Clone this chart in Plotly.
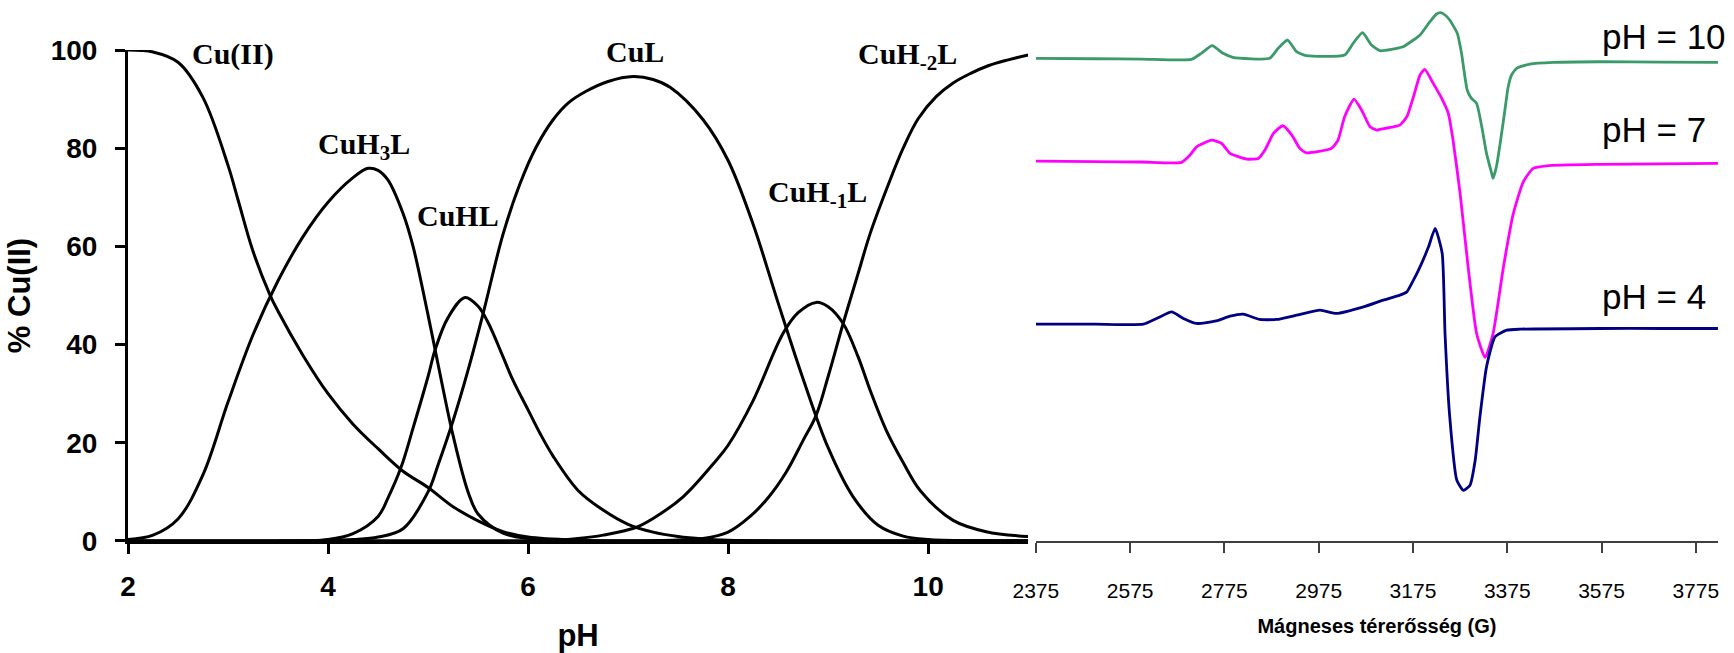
import plotly.graph_objects as go

# ---------------- Left panel: species distribution (% Cu(II) vs pH) ----------------
cu_ph = [2.0, 2.25, 2.5, 2.75, 3.0, 3.1, 3.25, 3.42, 3.5, 3.75, 4.0, 4.25, 4.5, 4.75, 5.0, 5.25, 5.5, 5.75, 6.0, 6.5, 7.0, 8.0, 9.0, 10.0, 11.0]
cu_pct = [100, 99.6, 97.5, 90.3, 76.5, 69.5, 59.0, 50.1, 46.8, 37.8, 30.0, 23.8, 18.8, 14.2, 10.9, 7.0, 4.1, 1.9, 0.8, 0.15, 0, 0, 0, 0, 0]

cuh3l_ph = [2.0, 2.25, 2.5, 2.75, 3.0, 3.25, 3.5, 3.75, 4.0, 4.25, 4.4, 4.5, 4.6, 4.75, 4.85, 5.0, 5.1, 5.25, 5.4, 5.5, 5.75, 6.0, 6.5, 7.0, 11.0]
cuh3l_pct = [0.3, 1.2, 4.5, 13.5, 28.3, 42.0, 53.0, 62.0, 69.0, 74.0, 75.9, 75.5, 73.5, 66.7, 60.0, 46.0, 36.0, 21.5, 10.0, 5.5, 1.6, 0.5, 0.05, 0, 0]

cuhl_ph = [3.5, 4.0, 4.25, 4.5, 4.6, 4.73, 4.85, 5.0, 5.07, 5.2, 5.37, 5.5, 5.6, 5.75, 5.85, 6.0, 6.12, 6.25, 6.5, 6.75, 7.0, 7.25, 7.5, 7.75, 8.0, 8.5, 11.0]
cuhl_pct = [0, 0.3, 1.5, 5.0, 8.8, 15.0, 23.0, 33.5, 38.9, 45.5, 49.6, 47.8, 44.5, 37.5, 32.7, 26.7, 21.9, 17.3, 10.3, 6.3, 3.4, 1.8, 0.9, 0.4, 0.15, 0, 0]

cul_ph = [2.0, 4.0, 4.25, 4.5, 4.75, 5.0, 5.1, 5.25, 5.4, 5.55, 5.75, 5.92, 6.08, 6.25, 6.4, 6.58, 6.8, 7.05, 7.25, 7.42, 7.75, 8.0, 8.25, 8.5, 8.75, 9.0, 9.25, 9.5, 9.75, 10.0, 10.5, 11.0]
cul_pct = [0, 0.1, 0.3, 0.8, 2.5, 10.0, 15.5, 24.5, 34.8, 46.3, 62.5, 72.8, 80.2, 85.8, 89.2, 91.6, 93.6, 94.6, 94.0, 92.4, 85.8, 77.5, 64.5, 48.5, 33.0, 19.0, 9.0, 3.2, 1.0, 0.3, 0.05, 0]

cuh_1l_ph = [2.0, 6.0, 6.25, 6.5, 6.75, 7.07, 7.25, 7.55, 7.88, 8.0, 8.25, 8.55, 8.7, 8.88, 9.0, 9.15, 9.3, 9.42, 9.58, 9.75, 9.92, 10.25, 10.58, 11.0]
cuh_1l_pct = [0, 0, 0.1, 0.5, 1.2, 2.7, 4.6, 9.0, 16.4, 19.5, 28.6, 42.3, 46.5, 48.6, 47.7, 44.3, 37.5, 30.7, 22.6, 16.0, 10.3, 4.2, 1.9, 0.9]

cuh_2l_ph = [2.0, 7.0, 7.5, 7.75, 8.0, 8.22, 8.4, 8.58, 8.75, 8.88, 9.0, 9.15, 9.3, 9.42, 9.6, 9.75, 9.9, 10.08, 10.25, 10.42, 10.6, 10.8, 11.0]
cuh_2l_pct = [0, 0, 0.2, 0.5, 1.8, 5.0, 8.8, 14.0, 20.5, 25.6, 33.5, 44.3, 54.5, 62.6, 72.5, 80.0, 86.0, 90.5, 93.3, 95.2, 96.8, 98.0, 99.0]

species_names = ["Cu(II)", "CuH<sub>3</sub>L", "CuHL", "CuL", "CuH<sub>-1</sub>L", "CuH<sub>-2</sub>L"]
label_ph = [3.05, 4.36, 5.30, 7.07, 8.89, 9.79]
label_pct = [99.2, 80.5, 66.3, 99.6, 70.6, 98.7]

ph_ticks = [2, 4, 6, 8, 10]
pct_ticks = [0, 20, 40, 60, 80, 100]

# ---------------- Right panel: EPR spectra (intensity, arbitrary units) ----------------
ph10_field = [2375, 2500, 2600, 2705, 2726, 2749, 2772, 2793, 2871, 2889, 2909, 2928, 2949, 3030, 3048, 3068, 3087,
              3105, 3154, 3176, 3190, 3211, 3225, 3234, 3243, 3253, 3269, 3278, 3290, 3299, 3310, 3321, 3331, 3342,
              3345, 3352, 3361, 3370, 3377, 3384, 3395, 3423, 3473, 3572, 3700, 3822]
ph10_int = [482.4, 482.0, 481.7, 481.4, 487.4, 495.0, 487.4, 483.4, 482.4, 492.4, 500.7, 489.0, 485.0, 485.7, 497.4, 508.0, 495.7,
            490.0, 494.0, 500.7, 505.7, 519.0, 526.7, 528.0, 525.7, 520.7, 507.4, 487.4, 450.7, 442.4, 437.4, 414.0, 387.4, 367.4,
            362.4, 374.0, 400.7, 430.7, 454.0, 465.7, 472.4, 476.7, 478.4, 479.0, 478.6, 478.4]

ph7_field = [2375, 2500, 2600, 2684, 2702, 2716, 2748, 2769, 2787, 2822, 2847, 2861, 2879, 2899, 2918, 2935, 2949, 3002,
             3016, 3030, 3050, 3066, 3084, 3098, 3105, 3133, 3147, 3162, 3176, 3190, 3200, 3218, 3236, 3250, 3260, 3275,
             3292, 3310, 3328, 3345, 3367, 3388, 3409, 3430, 3459, 3572, 3700, 3822]
ph7_int = [379.7, 379.2, 378.8, 378.4, 385.7, 394.0, 400.7, 397.4, 387.4, 381.7, 382.4, 390.7, 407.4, 415.0, 405.7, 392.4, 388.0, 392.4,
           400.7, 424.0, 441.7, 430.7, 414.0, 410.7, 411.4, 414.0, 415.7, 424.0, 444.0, 465.7, 471.4, 457.4, 442.4, 427.4, 400.7, 347.4,
           274.0, 207.4, 183.4, 207.4, 274.0, 327.4, 359.0, 372.4, 375.0, 376.4, 377.0, 377.4]

ph4_field = [2375, 2500, 2603, 2631, 2663, 2688, 2716, 2758, 2787, 2815, 2850, 2886, 2928, 2978, 3013, 3070, 3112, 3147,
             3162, 3176, 3190, 3208, 3222, 3237, 3243, 3253, 3268, 3282, 3296, 3307, 3317, 3331, 3349, 3374, 3402, 3572,
             3700, 3822]
ph4_int = [216.7, 216.7, 216.7, 222.4, 229.0, 222.4, 217.4, 220.0, 224.7, 226.7, 221.4, 221.4, 225.7, 230.7, 227.4, 234.0, 240.7, 245.7,
           249.0, 260.7, 274.0, 294.0, 312.4, 287.4, 207.4, 124.0, 60.7, 50.7, 55.7, 80.7, 124.0, 174.0, 204.0, 210.7, 211.7, 212.4,
           212.4, 212.4]

field_ticks = [2375, 2575, 2775, 2975, 3175, 3375, 3575, 3775]
spectra_labels = ["pH = 10", "pH = 7", "pH = 4"]
spectra_label_int = [504.5, 411.0, 244.5]
spectra_colors = ["#3a9a6a", "#ff00ff", "#000080"]

# ---------------- Figure ----------------
W, H = 1734, 653
ML, MR, MT, MB = 128.3, 16.0, 5.0, 112.3
plot_w = W - ML - MR
plot_h = H - MT - MB

fig = go.Figure()

species = [
    (cu_ph, cu_pct), (cuh3l_ph, cuh3l_pct), (cuhl_ph, cuhl_pct),
    (cul_ph, cul_pct), (cuh_1l_ph, cuh_1l_pct), (cuh_2l_ph, cuh_2l_pct),
]
for name, (xs, ys) in zip(species_names, species):
    fig.add_trace(go.Scatter(x=xs, y=ys, mode="lines", name=name, xaxis="x", yaxis="y",
                             line=dict(color="black", width=3, shape="spline", smoothing=1.0),
                             showlegend=False, hoverinfo="x+y+name"))

spectra = [(ph10_field, ph10_int), (ph7_field, ph7_int), (ph4_field, ph4_int)]
for name, (xs, ys), col in zip(spectra_labels, spectra, spectra_colors):
    fig.add_trace(go.Scatter(x=xs, y=ys, mode="lines", name=name, xaxis="x2", yaxis="y2",
                             line=dict(color=col, width=2.8, shape="spline", smoothing=0.5),
                             showlegend=False))

bold_sans = dict(family="Liberation Sans, Arial, sans-serif", color="black", weight="bold")
plain_sans = "Liberation Sans, Arial, sans-serif"

left_top = (H - MB - 50.0) / plot_h
fig.update_layout(
    width=W, height=H,
    margin=dict(l=ML, r=MR, t=MT, b=MB, pad=0, autoexpand=False),
    paper_bgcolor="white", plot_bgcolor="white",
    showlegend=False,
    xaxis=dict(domain=[0, 900.0 / plot_w], range=[2, 11], tickvals=ph_ticks, automargin=False,
               ticks="outside", ticklen=10, tickwidth=3, tickcolor="black",
               showline=True, linewidth=3, linecolor="black", showgrid=False, zeroline=False,
               tickfont=dict(size=28, **bold_sans), ticklabelstandoff=8,
               title=dict(text="pH", font=dict(size=31, **bold_sans), standoff=24),
               anchor="y"),
    yaxis=dict(domain=[0, left_top], range=[0, 100], tickvals=pct_ticks, automargin=False,
               ticks="outside", ticklen=10, tickwidth=3, tickcolor="black",
               showline=True, linewidth=3, linecolor="black", showgrid=False, zeroline=False,
               tickfont=dict(size=28, **bold_sans), ticklabelstandoff=12,
               title=dict(text="% Cu(II)", font=dict(size=31, **bold_sans), standoff=11),
               anchor="x"),
    xaxis2=dict(domain=[(1036.0 - ML) / plot_w, 1.0], range=[2375, 3822.1], tickvals=field_ticks,
                automargin=False,
                ticks="outside", ticklen=10, tickwidth=1.5, tickcolor="#404040",
                showline=True, linewidth=1.5, linecolor="#404040", showgrid=False, zeroline=False,
                tickfont=dict(size=21, family=plain_sans, color="black"), ticklabelstandoff=20,
                title=dict(text="Mágneses térerősség (G)",
                           font=dict(size=20, family=plain_sans, color="black", weight="bold"), standoff=18),
                anchor="y2"),
    yaxis2=dict(domain=[0, 1], range=[0, plot_h], visible=False, anchor="x2", automargin=False),
)

serif_bold = dict(family="Liberation Serif, Times New Roman, serif", size=30, color="black", weight="bold")
for txt, xp, yp in zip(species_names, label_ph, label_pct):
    fig.add_annotation(x=xp, y=yp, xref="x", yref="y", text=txt, showarrow=False,
                       font=serif_bold, xanchor="center", yanchor="middle")

for txt, yp in zip(spectra_labels, spectra_label_int):
    fig.add_annotation(x=3571.5, y=yp, xref="x2", yref="y2", text=txt, showarrow=False,
                       font=dict(family=plain_sans, size=35, color="black"),
                       xanchor="left", yanchor="middle")

fig.write_html("out.html", config={"displayModeBar": False},
               post_script="document.body.style.margin='0px';")
